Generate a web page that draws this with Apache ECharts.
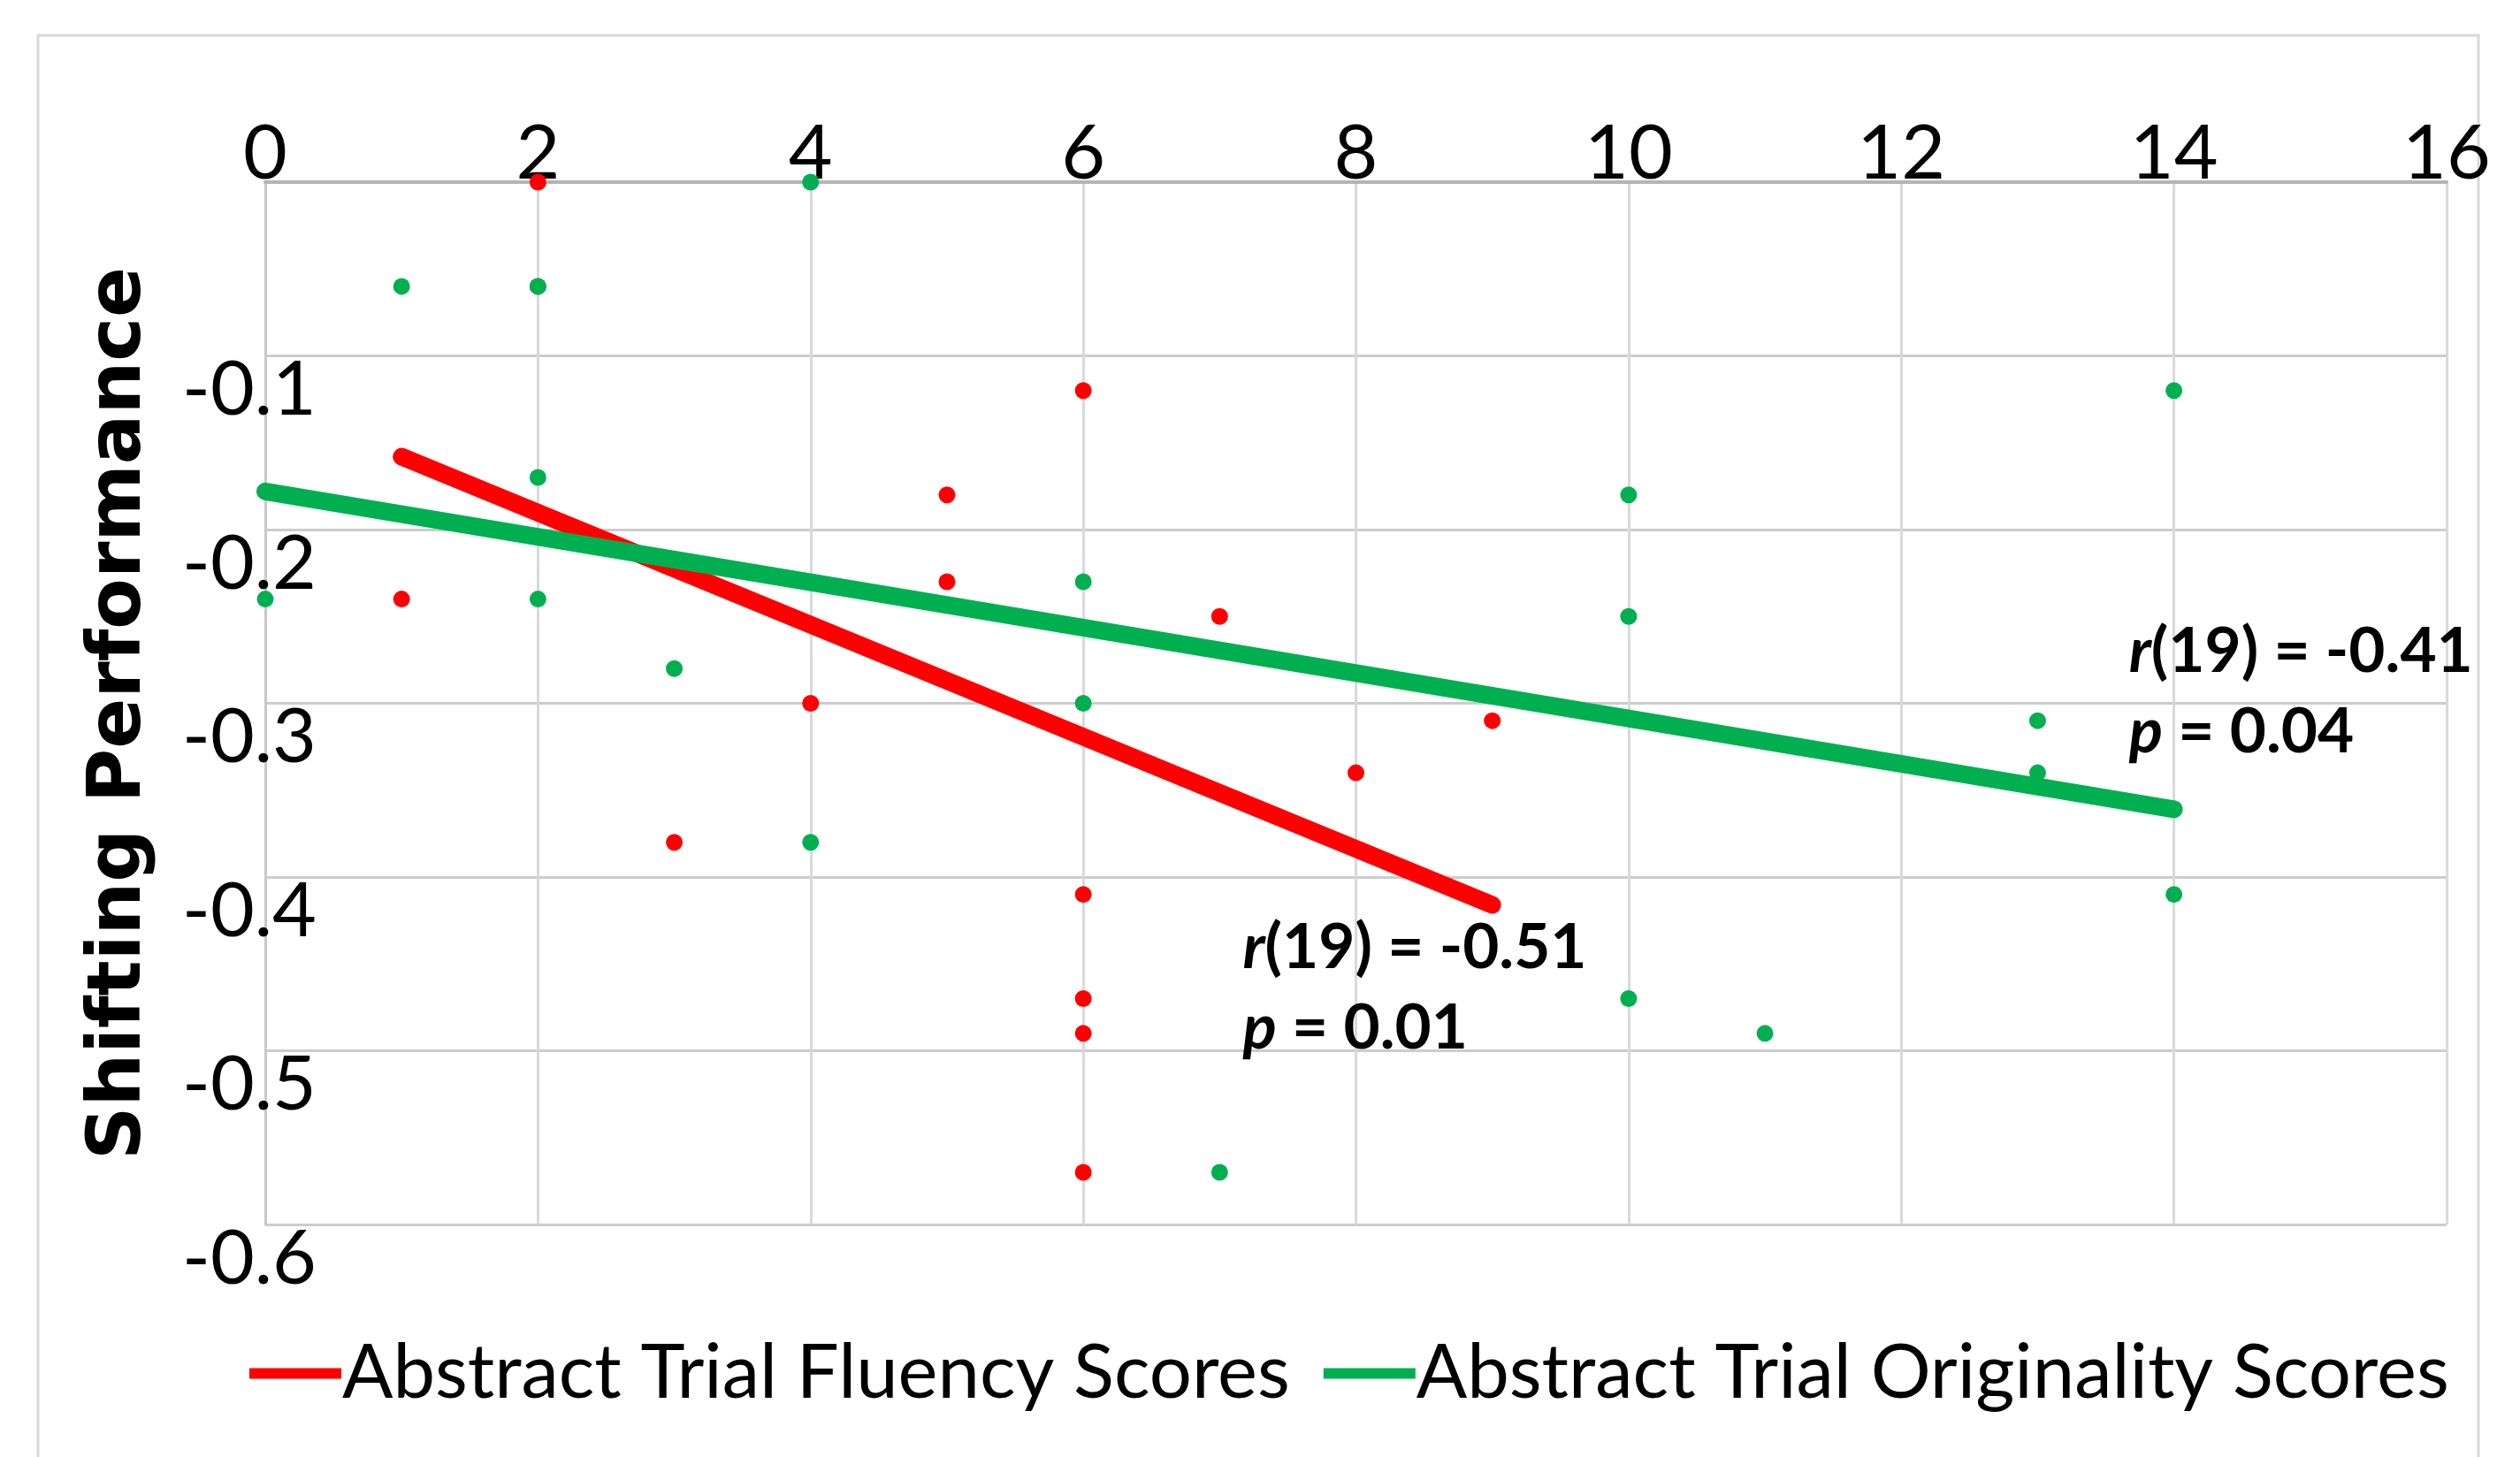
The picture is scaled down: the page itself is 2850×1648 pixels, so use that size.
<!DOCTYPE html>
<html>
<head>
<meta charset="utf-8">
<title>Shifting Performance vs Abstract Trial Scores</title>
<script src="https://cdn.jsdelivr.net/npm/echarts@6/dist/echarts.min.js"></script>
<style>
  html, body { margin: 0; padding: 0; background: #ffffff; }
  #chart { width: 2850px; height: 1648px; }
</style>
</head>
<body>
<div id="chart"></div>
<script>
// Abstract trial fluency scores and the matching shifting performance
const fluencyScores   = [1, 2, 2, 3, 4, 5, 5, 6, 6, 6, 6, 6, 7, 8, 9];
const fluencyShifting = [-0.24, 0, -0.06, -0.38, -0.30, -0.18, -0.23, -0.12, -0.41, -0.47, -0.49, -0.57, -0.25, -0.34, -0.31];

// Abstract trial originality scores and the matching shifting performance
const originalityScores   = [0, 1, 2, 2, 2, 3, 4, 4, 6, 6, 7, 10, 10, 10, 11, 13, 13, 14, 14];
const originalityShifting = [-0.24, -0.06, -0.06, -0.17, -0.24, -0.28, 0, -0.38, -0.23, -0.30, -0.57, -0.18, -0.25, -0.47, -0.49, -0.31, -0.34, -0.12, -0.41];

// Linear trend lines (end points)
const fluencyTrendX = [1, 9];
const fluencyTrendY = [-0.158, -0.416];
const originalityTrendX = [0, 14];
const originalityTrendY = [-0.178, -0.361];

// Correlation statistics
const fluencyStats = { r: '-0.51', df: 19, p: '0.01', at: [7.17, -0.4639] };
const originalityStats = { r: '-0.41', df: 19, p: '0.04', at: [13.67, -0.2934] };

const seriesNames = ['Abstract Trial Fluency Scores', 'Abstract Trial Originality Scores'];
const xTicks = { min: 0, max: 16, step: 2 };
const yTicks = { min: -0.6, max: 0, step: 0.1 };

const RED = '#ff0000';
const GREEN = '#00b050';
const FONT = "'Liberation Sans Narrow', 'Lato', sans-serif";

const zip = (xs, ys) => xs.map((x, i) => [x, ys[i]]);

const statLabel = (s) => ({
  show: true,
  position: 'right',
  distance: 0,
  formatter: '{i|r}(' + s.df + ') = ' + s.r + '\n{i|p} = ' + s.p,
  fontFamily: FONT,
  fontWeight: 'bold',
  fontSize: 71,
  lineHeight: 91,
  color: '#000000',
  opacity: 1,
  textBorderWidth: 0,
  rich: {
    i: { fontStyle: 'italic', fontWeight: 'bold', fontFamily: FONT, fontSize: 71, lineHeight: 91, color: '#000000' }
  }
});

const chart = echarts.init(document.getElementById('chart'), null, { renderer: 'canvas' });

chart.setOption({
  backgroundColor: '#ffffff',
  animation: false,
  grid: { left: 300, right: 83, top: 206, bottom: 263, containLabel: false },
  xAxis: {
    type: 'value',
    position: 'top',
    min: xTicks.min, max: xTicks.max, interval: xTicks.step,
    axisLine: { show: true, lineStyle: { color: '#b4b4b4', width: 4 } },
    axisTick: { show: false },
    axisLabel: { fontFamily: FONT, fontSize: 86, color: '#000', margin: -11 },
    splitLine: { show: true, lineStyle: { color: '#d9d9d9', width: 3 } }
  },
  yAxis: {
    type: 'value',
    min: yTicks.min, max: yTicks.max, interval: yTicks.step,
    axisLine: { show: true, onZero: false, lineStyle: { color: '#c8c8c8', width: 3 } },
    axisTick: { show: false },
    axisLabel: {
      fontFamily: FONT, fontSize: 86, lineHeight: 86, color: '#000',
      margin: -58, align: 'right', verticalAlign: 'top', padding: [-4, 0, 0, 0],
      showMaxLabel: false,
      formatter: (v) => (Math.abs(v) < 1e-9 ? '' : v.toFixed(1))
    },
    splitLine: { show: true, lineStyle: { color: '#cccccc', width: 3 } }
  },
  legend: {
    left: 282,
    top: 1511,
    width: 2560,
    padding: 0,
    itemGap: 38,
    itemWidth: 104,
    itemHeight: 12,
    data: [
      { name: seriesNames[0], icon: 'rect' },
      { name: seriesNames[1], icon: 'rect' }
    ],
    textStyle: { fontFamily: FONT, fontSize: 85, color: '#000', padding: [0, 0, 0, -4] }
  },
  graphic: [
    {
      type: 'rect', z: -10, silent: true,
      shape: { x: 43, y: 40, width: 2760, height: 1700 },
      style: { fill: 'none', stroke: '#d9d9d9', lineWidth: 3 }
    },
    {
      type: 'text', silent: true,
      x: 136, y: 807, rotation: Math.PI / 2,
      style: {
        text: 'Shifting Performance',
        fontFamily: "'DejaVu Sans', sans-serif",
        fontWeight: 'bold', fontSize: 84, fill: '#000',
        align: 'center', verticalAlign: 'middle'
      }
    }
  ],
  series: [
    {
      name: seriesNames[0], type: 'scatter', symbol: 'circle', symbolSize: 19,
      itemStyle: { color: RED, opacity: 1 }, clip: false, z: 2,
      data: zip(fluencyScores, fluencyShifting)
    },
    {
      name: seriesNames[1], type: 'scatter', symbol: 'circle', symbolSize: 19,
      itemStyle: { color: GREEN, opacity: 1 }, clip: false, z: 3,
      data: zip(originalityScores, originalityShifting)
    },
    {
      name: seriesNames[0], type: 'line', showSymbol: false, clip: false, z: 4,
      lineStyle: { color: RED, width: 20, cap: 'round' },
      itemStyle: { color: RED },
      data: zip(fluencyTrendX, fluencyTrendY)
    },
    {
      name: seriesNames[1], type: 'line', showSymbol: false, clip: false, z: 5,
      lineStyle: { color: GREEN, width: 20, cap: 'round' },
      itemStyle: { color: GREEN },
      data: zip(originalityTrendX, originalityTrendY)
    },
    {
      name: 'stats', type: 'scatter', symbolSize: 0, clip: false, z: 6,
      silent: true, legendHoverLink: false,
      itemStyle: { opacity: 1 },
      data: [
        { value: fluencyStats.at, label: statLabel(fluencyStats) },
        { value: originalityStats.at, label: statLabel(originalityStats) }
      ]
    }
  ]
});
</script>
</body>
</html>
